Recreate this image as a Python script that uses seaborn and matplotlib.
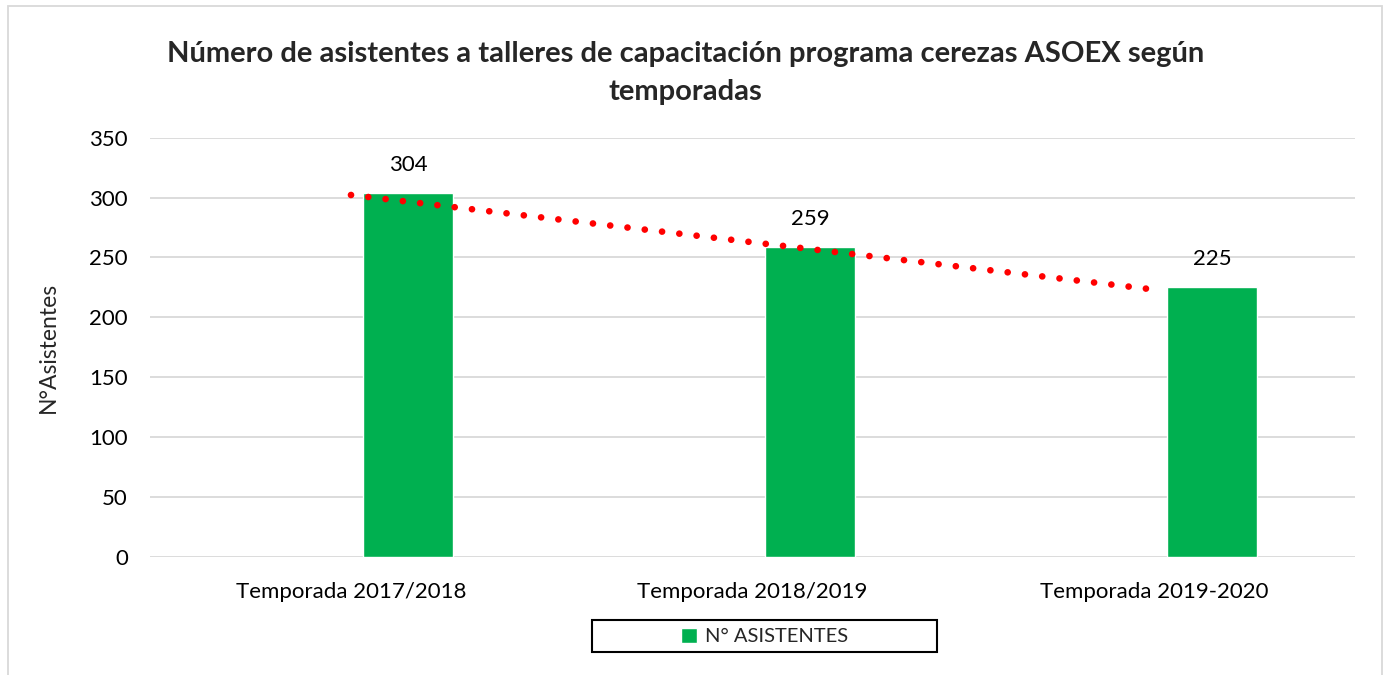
import matplotlib
matplotlib.use("Agg")
import matplotlib.pyplot as plt
import seaborn as sns
import numpy as np
import pandas as pd
from matplotlib.patches import Rectangle

# Data
temporadas = ["Temporada 2017/2018", "Temporada 2018/2019", "Temporada 2019-2020"]
asistentes = [304, 259, 225]
serie_label = "N° ASISTENTES"
titulo = "Número de asistentes a talleres de capacitación programa cerezas ASOEX según\ntemporadas"
ylabel = "N°Asistentes"
yticks = [0, 50, 100, 150, 200, 250, 300, 350]

# Style
bar_color = "#00B050"
my_font = "Lato"
tick_size = 16
bar_width = 0.224
bar_shift = 0.143

sns.set_theme(style="white")
plt.rcParams['font.family'] = [my_font, 'DejaVu Sans']

df = pd.DataFrame({"temporada": temporadas, "asistentes": asistentes})

fig = plt.figure(figsize=(13.9, 6.75), dpi=100)
ax = fig.add_axes([0.108, 0.175, 0.867, 0.621])

sns.barplot(data=df, x="temporada", y="asistentes", color=bar_color,
            width=bar_width, saturation=1, ax=ax, label=serie_label)
# Excel-style offset of the single series inside each category
for p in ax.patches:
    p.set_x(p.get_x() + bar_shift)
    h = p.get_height()
    ax.annotate(f"{h:.0f}", (p.get_x() + p.get_width() / 2, h),
                xytext=(0, 13), textcoords="offset points",
                ha="center", va="bottom", fontsize=tick_size, color="black")

# linear trendline
sns.regplot(x=np.arange(len(asistentes)), y=np.array(asistentes, dtype=float),
            scatter=False, ci=None, ax=ax, truncate=True,
            line_kws=dict(color="red", linewidth=4.8, linestyle=(0, (0.01, 2.6)),
                          dash_capstyle="round"))

ax.set_xlim(-0.5, 2.5)
ax.set_ylim(0, 350)
ax.set_yticks(yticks)
ax.yaxis.grid(True, color="#D9D9D9", linewidth=1.3)
ax.set_axisbelow(True)
for s in ax.spines.values():
    s.set_visible(False)
ax.tick_params(axis="both", length=0, labelsize=tick_size, colors="black")
ax.tick_params(axis="x", pad=18)
ax.tick_params(axis="y", pad=16)
ax.set_xlabel("")
ax.set_ylabel(ylabel, fontsize=tick_size + 0.5, labelpad=22)

fig.suptitle(titulo, fontsize=21, fontweight="bold", y=0.892, x=0.493,
             va="center", linespacing=1.55)

leg = ax.legend(loc="center", bbox_to_anchor=(0.55, 0.057), bbox_transform=fig.transFigure,
                frameon=False, fontsize=14.5, handlelength=0.8, handleheight=0.8,
                handletextpad=0.4)

# legend box and chart border
fig.patches.append(Rectangle((592 / 1390, 1 - 652 / 675), 345 / 1390, 32 / 675,
                             transform=fig.transFigure, fill=False,
                             edgecolor="black", linewidth=1.5))
fig.patches.append(Rectangle((8 / 1390, -0.01), 1 - 16 / 1390, 1 - 6 / 675 + 0.01,
                             transform=fig.transFigure, fill=False,
                             edgecolor="#D9D9D9", linewidth=1.3))

plt.savefig("out.png", dpi=100)
